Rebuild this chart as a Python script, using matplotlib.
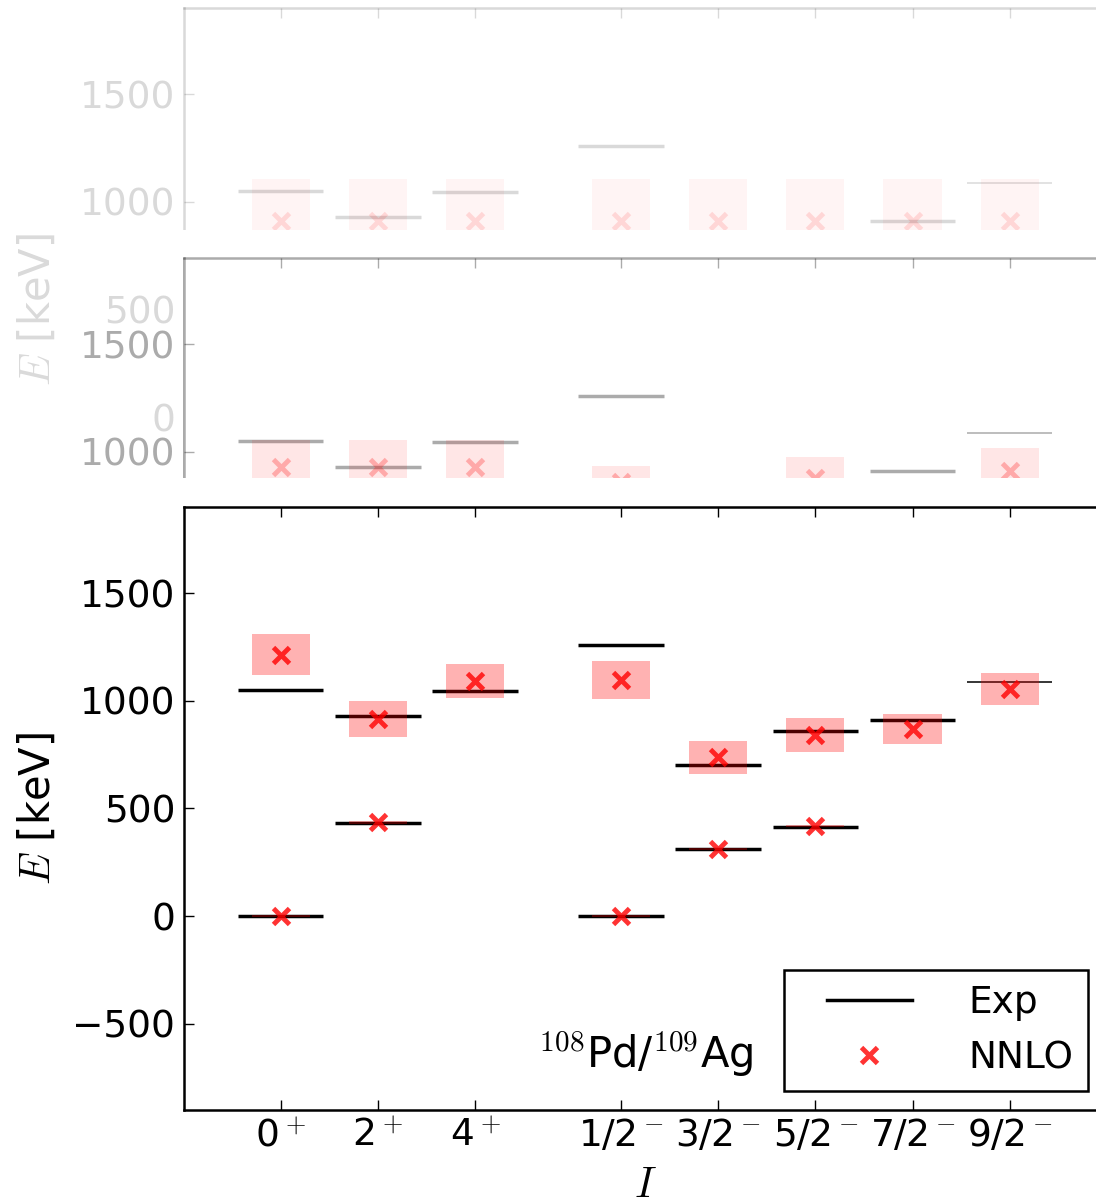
import numpy as np
import matplotlib
matplotlib.use('Agg')
import matplotlib.pyplot as plt
from matplotlib.lines import Line2D
from matplotlib.patches import Rectangle
from matplotlib.legend_handler import HandlerLine2D

plt.rcParams['mathtext.fontset'] = 'cm'
plt.rcParams['font.family'] = ['DejaVu Sans']

# spin/parity columns
spins = ['0$^+$', '2$^+$', '4$^+$', '1/2$^-$', '3/2$^-$', '5/2$^-$', '7/2$^-$', '9/2$^-$']
x_pos = [0, 1, 2, 3.5, 4.5, 5.5, 6.5, 7.5]

# experimental levels (keV)
exp_levels = [[0, 1052], [434, 929], [1047], [0, 1259], [311, 700], [415, 861], [911], [1089]]
# NNLO levels and uncertainty (keV)
nnlo_E = [[0, 1214], [435, 916], [1091], [0, 1096], [310, 737], [417, 841], [869], [1055]]
nnlo_err = [[5, 94], [5, 84], [78], [5, 89], [5, 78], [5, 80], [71], [73]]

# faded copies at the top of the picture
ghost1_exp = [[0, 1052], [434, 929], [1047], [0, 1259], [311], [415], [911], [1089]]
ghost1_E = [[910], [910], [910], [910], [910], [910], [910], [910]]
ghost1_err = [[197], [197], [197], [197], [197], [197], [197], [197]]
ghost2_E = [[929], [929], [929], [860], [800], [880], [800], [910]]
ghost2_err = [[124], [124], [124], [72], [70], [94], [70], [107]]

thin_cols = {7}   # tentative level drawn thinner
FS = 27
LFS = 30


def panel(ax, exp, E, err, f):
    k = (0, 0, 0, f)
    for i, x in enumerate(x_pos):
        lw = 1.1 if i in thin_cols else 2.5
        ax.hlines(exp[i], x - 0.44, x + 0.44, colors=[k], lw=lw, zorder=2)
        es, ers = E[i], err[i]
        ax.bar([x] * len(es), [2 * e for e in ers],
               bottom=[a - b for a, b in zip(es, ers)], width=0.6,
               color=(1, 0, 0, 0.3 * f), lw=0, zorder=3)
        ax.plot([x] * len(es), es, 'x', color=(1, 0, 0, 0.8 * f),
                ms=12, mew=3.5, zorder=4)
    ax.set_xlim(-1, 8.5)
    ax.set_ylim(-900, 1900)
    ax.set_xticks(x_pos)
    ax.set_xticklabels(spins)
    ax.set_yticks([-500, 0, 500, 1000, 1500])
    ax.tick_params(direction='in', top=True, right=True, length=7, width=1,
                   labelsize=FS, pad=6, color=k, labelcolor=k)
    for s in ax.spines.values():
        s.set_linewidth(1.8)
        s.set_edgecolor(k)
    ax.set_ylabel('$E$ [keV]', fontsize=LFS, color=k, labelpad=10)
    ax.set_xlabel('$I$', fontsize=LFS, color=k, labelpad=7)


fig = plt.figure(figsize=(10.96, 12.04), dpi=100)
L, W, H = 183.5 / 1096, 923.4 / 1096, 603 / 1204

ax1 = fig.add_axes([L, 1 - 611 / 1204, W, H])
ax1.set_zorder(0)
panel(ax1, ghost1_exp, ghost1_E, ghost1_err, 0.15)

band = Rectangle((182 / 1096, 1 - 258 / 1204), 1, 28 / 1204, transform=fig.transFigure,
                 facecolor='white', edgecolor='none', zorder=0.5)
fig.add_artist(band)

ax2 = fig.add_axes([L, 1 - 861 / 1204, W, H])
ax2.set_zorder(1)
panel(ax2, exp_levels, ghost2_E, ghost2_err, 0.33)

cover = Rectangle((0, 0), 1, 1 - 478 / 1204, transform=fig.transFigure,
                  facecolor='white', edgecolor='none', zorder=1.5)
fig.add_artist(cover)

ax = fig.add_axes([L, 1 - 1110 / 1204, W, H])
ax.set_zorder(2)
panel(ax, exp_levels, nnlo_E, nnlo_err, 1.0)

ax.text(4.86, -707, r'$^{108}$Pd/$^{109}$Ag', ha='right', va='baseline', fontsize=LFS)

handles = [Line2D([], [], color='k', lw=2.5, label='Exp'),
           Line2D([], [], ls='none', marker='x', color=(1, 0, 0, 0.8), ms=12, mew=3.5, label='NNLO')]
leg = ax.legend(handles=handles, loc='lower right', fontsize=FS, fancybox=False,
                framealpha=1, edgecolor='k', borderpad=0.4, handlelength=3.0,
                handletextpad=1.5, labelspacing=0.51, borderaxespad=0.5,
                handler_map={Line2D: HandlerLine2D(xpad=0.73)})
leg.get_frame().set_linewidth(1.8)

fig.savefig('out.png', dpi=100)
